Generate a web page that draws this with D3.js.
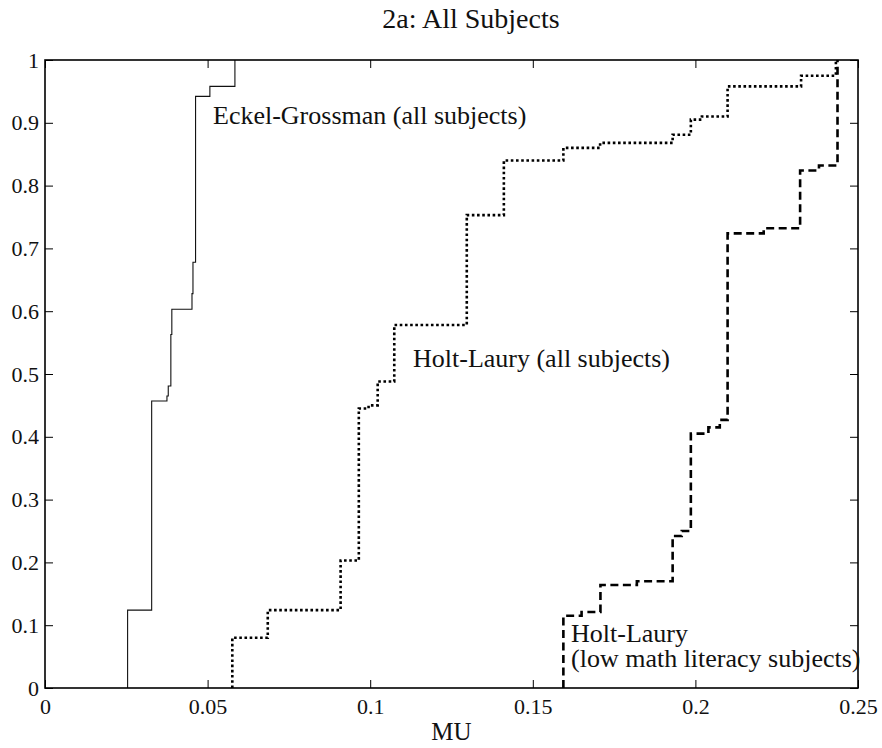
<!DOCTYPE html>
<html>
<head>
<meta charset="utf-8">
<script src="https://cdn.jsdelivr.net/npm/d3@7"></script>
<style>
  html, body { margin: 0; padding: 0; background: #fff; }
  svg { display: block; font-family: "Liberation Serif", "DejaVu Serif", serif; }
</style>
</head>
<body>
<svg id="chart" width="882" height="748"></svg>
<script>
// Empirical CDFs of MU: jump locations and the cumulative share reached at each jump
const egMU  = [0.0254, 0.0328, 0.0375, 0.0379, 0.0387, 0.0390, 0.0452, 0.0455, 0.0463, 0.0507, 0.0584];
const egCDF = [0.124, 0.457, 0.465, 0.481, 0.563, 0.603, 0.628, 0.678, 0.942, 0.958, 1.0];

const hlMU  = [0.0576, 0.0685, 0.0909, 0.0965, 0.0995, 0.1023, 0.1074, 0.1297, 0.1411, 0.1594, 0.1707, 0.1930, 0.1986, 0.2020, 0.2099, 0.2325, 0.2432];
const hlCDF = [0.080, 0.124, 0.203, 0.445, 0.450, 0.488, 0.578, 0.753, 0.840, 0.860, 0.868, 0.881, 0.905, 0.910, 0.958, 0.975, 1.0];

const hlLowMU  = [0.1594, 0.1650, 0.1708, 0.1820, 0.1930, 0.1958, 0.1986, 0.2040, 0.2075, 0.2099, 0.2210, 0.2322, 0.2380, 0.2437];
const hlLowCDF = [0.115, 0.121, 0.164, 0.170, 0.242, 0.250, 0.405, 0.415, 0.427, 0.724, 0.732, 0.824, 0.832, 1.0];

const xTickValues = [0, 0.05, 0.1, 0.15, 0.2, 0.25];
const xTickLabels = ["0", "0.05", "0.1", "0.15", "0.2", "0.25"];
const yTickValues = [0, 0.1, 0.2, 0.3, 0.4, 0.5, 0.6, 0.7, 0.8, 0.9, 1];
const yTickLabels = ["0", "0.1", "0.2", "0.3", "0.4", "0.5", "0.6", "0.7", "0.8", "0.9", "1"];

const titleText = "2a: All Subjects";
const xLabelText = "MU";

const svg = d3.select("#chart");
const plotLeft = 45, plotRight = 858, plotTop = 60, plotBottom = 688;

const x = d3.scaleLinear().domain([0, 0.25]).range([plotLeft, plotRight]);
const y = d3.scaleLinear().domain([0, 1]).range([plotBottom, plotTop]);

// ticks pointing into the plot on all four sides
const tickLen = 8;
const fmtX = (d, i) => xTickLabels[i];
const fmtY = (d, i) => yTickLabels[i];

function styleAxis(g) {
  g.select(".domain").remove();
  g.selectAll(".tick line").attr("stroke", "#000").attr("stroke-width", 1);
  g.selectAll(".tick text").attr("fill", "#111").attr("font-size", 22)
    .attr("font-family", "Liberation Serif, DejaVu Serif, serif");
}

svg.append("g").attr("transform", `translate(0,${plotBottom})`)
  .call(d3.axisBottom(x).tickValues(xTickValues).tickFormat(fmtX)
    .tickSizeInner(-tickLen).tickSizeOuter(0).tickPadding(10))
  .call(styleAxis);

svg.append("g").attr("transform", `translate(0,${plotTop})`)
  .call(d3.axisTop(x).tickValues(xTickValues).tickFormat("")
    .tickSizeInner(-tickLen).tickSizeOuter(0))
  .call(styleAxis);

svg.append("g").attr("transform", `translate(${plotLeft},0)`)
  .call(d3.axisLeft(y).tickValues(yTickValues).tickFormat(fmtY)
    .tickSizeInner(-tickLen).tickSizeOuter(0).tickPadding(6))
  .call(styleAxis);

svg.append("g").attr("transform", `translate(${plotRight},0)`)
  .call(d3.axisRight(y).tickValues(yTickValues).tickFormat("")
    .tickSizeInner(-tickLen).tickSizeOuter(0))
  .call(styleAxis);

// step lines: start at zero at the first jump, then step after each jump
const stepLine = d3.line()
  .x(d => x(d[0]))
  .y(d => y(d[1]))
  .curve(d3.curveStepAfter);

function cdfPoints(mu, cdf) {
  return [[mu[0], 0]].concat(mu.map((m, i) => [m, cdf[i]]));
}

svg.append("path")
  .attr("d", stepLine(cdfPoints(egMU, egCDF)))
  .attr("fill", "none").attr("stroke", "#111").attr("stroke-width", 1.1);

svg.append("path")
  .attr("d", stepLine(cdfPoints(hlMU, hlCDF)))
  .attr("fill", "none").attr("stroke", "#000").attr("stroke-width", 2.6)
  .attr("stroke-dasharray", "2.6,2.6");

svg.append("path")
  .attr("d", stepLine(cdfPoints(hlLowMU, hlLowCDF)))
  .attr("fill", "none").attr("stroke", "#000").attr("stroke-width", 2.6)
  .attr("stroke-dasharray", "8,4.5");

// plot frame
svg.append("rect")
  .attr("x", plotLeft).attr("y", plotTop)
  .attr("width", plotRight - plotLeft).attr("height", plotBottom - plotTop)
  .attr("fill", "none").attr("stroke", "#000").attr("stroke-width", 1.6);

// annotations
const ann = svg.append("g").attr("font-size", 26).attr("fill", "#111");
ann.append("text").attr("x", 213).attr("y", 124).text("Eckel-Grossman (all subjects)");
ann.append("text").attr("x", 413).attr("y", 367).text("Holt-Laury (all subjects)");
ann.append("text").attr("x", 571).attr("y", 642).text("Holt-Laury");
ann.append("text").attr("x", 571).attr("y", 667).text("(low math literacy subjects)");

svg.append("text")
  .attr("x", 471).attr("y", 28)
  .attr("text-anchor", "middle").attr("font-size", 28).attr("fill", "#111")
  .text(titleText);

svg.append("text")
  .attr("x", (plotLeft + plotRight) / 2).attr("y", 740)
  .attr("text-anchor", "middle").attr("font-size", 25).attr("fill", "#111")
  .text(xLabelText);
</script>
</body>
</html>
